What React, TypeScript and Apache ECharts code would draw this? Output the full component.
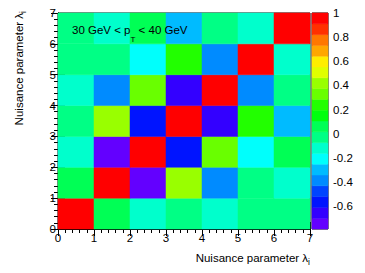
import React, { useEffect, useRef } from 'react';
import * as echarts from 'echarts';

// Correlation matrix rows (row index = y bin, column index = x bin)
const row0 = [1.0, 0.06, -0.12, -0.03, -0.12, -0.03, -0.03];
const row1 = [0.06, 1.0, -0.79, 0.42, -0.39, -0.03, -0.12];
const row2 = [-0.12, -0.79, 1.0, -0.57, 0.33, -0.21, 0.06];
const row3 = [-0.03, 0.42, -0.57, 1.0, -0.66, 0.24, -0.30];
const row4 = [-0.12, -0.39, 0.33, -0.66, 1.0, -0.39, -0.03];
const row5 = [-0.03, -0.03, -0.21, 0.24, -0.39, 1.0, -0.12];
const row6 = [-0.03, -0.12, 0.06, -0.30, -0.03, -0.12, 1.0];
const rows = [row0, row1, row2, row3, row4, row5, row6];

const axisMin = 0;
const axisMax = 7;
const zMin = -0.79;
const zMax = 1;
const nContours = 20;
const paletteTicks = [-0.6, -0.4, -0.2, 0, 0.2, 0.4, 0.6, 0.8, 1];
const titleText = '{n|30 GeV < p}{s|T}{n| < 40 GeV}';
const axisTitleText = '{n|Nuisance parameter λ}{s|i}';

const FONT = "'Liberation Sans', Arial, Helvetica, sans-serif";
const FS = 11.5;

// ROOT "pretty" palette (HLS, L=0.5, S=1, hue 280 -> 0), 50 colours, 20 contours
function hueToRgb(h: number): string {
  let r = 0, g = 0, b = 0;
  if (h < 60) { r = 1; g = h / 60; b = 0; }
  else if (h < 120) { r = (120 - h) / 60; g = 1; b = 0; }
  else if (h < 180) { r = 0; g = 1; b = (h - 120) / 60; }
  else if (h < 240) { r = 0; g = (240 - h) / 60; b = 1; }
  else { r = (h - 240) / 60; g = 0; b = 1; }
  return `rgb(${Math.round(r * 255)},${Math.round(g * 255)},${Math.round(b * 255)})`;
}
const contourColors: string[] = [];
for (let j = 0; j < nContours; j++) {
  const idx = Math.floor((j + 0.99) * 50 / nContours);
  const hue = 280 - (idx + 1) * (280 / 50);
  contourColors.push(hueToRgb(Math.max(hue, 0)));
}
const bandWidth = (zMax - zMin) / nContours;

export default function App() {
  const ref = useRef<HTMLDivElement>(null);
  useEffect(() => {
    if (!ref.current) return;
    const chart = echarts.init(ref.current, undefined, { renderer: 'svg' });

    const cells: number[][] = [];
    rows.forEach((r, y) => r.forEach((v, x) => cells.push([x, y, v])));
    const bands = contourColors.map((_, j) => [j]);

    const pieces = contourColors.map((c, j) => {
      const lo = zMin + j * bandWidth - (j === 0 ? 1e-6 : 0);
      const hi = zMin + (j + 1) * bandWidth + (j === nContours - 1 ? 1e-6 : 0);
      return { gte: lo, lt: hi, color: c };
    });

    const tickLabel = { fontFamily: FONT, fontSize: FS, color: '#000' };
    const axisLine = { show: true, lineStyle: { color: '#000', width: 1 } };

    const mainX = (position: string, showLabel: boolean) => ({
      type: 'value',
      gridIndex: 0,
      position,
      min: axisMin,
      max: axisMax,
      interval: 1,
      axisLine,
      axisTick: { show: true, inside: true, length: 7, lineStyle: { color: '#000' } },
      minorTick: { show: true, splitNumber: 5, length: 4, lineStyle: { color: '#000' } },
      axisLabel: { show: showLabel, margin: 3, ...tickLabel },
      splitLine: { show: false },
      minorSplitLine: { show: false },
    });
    const mainY = (position: string, showLabel: boolean) => ({
      type: 'value',
      gridIndex: 0,
      position,
      min: axisMin,
      max: axisMax,
      interval: 1,
      axisLine,
      axisTick: { show: true, inside: true, length: 7, lineStyle: { color: '#000' } },
      minorTick: { show: true, splitNumber: 5, length: 4, lineStyle: { color: '#000' } },
      axisLabel: { show: showLabel, margin: 2, ...tickLabel },
      splitLine: { show: false },
      minorSplitLine: { show: false },
    });

    const subRich = (pad: number, size: number) => ({
      n: { fontFamily: FONT, fontSize: FS, color: '#000', verticalAlign: 'middle' },
      s: { fontFamily: FONT, fontSize: size, color: '#000', verticalAlign: 'middle', padding: [pad, 0, 0, 0] },
    });

    chart.setOption({
      animation: false,
      backgroundColor: '#fff',
      grid: [
        { left: 58, top: 13, width: 252, height: 216, show: true, borderColor: '#000', borderWidth: 1, backgroundColor: 'transparent' },
        { left: 312, top: 13, width: 16, height: 216, show: true, borderColor: '#000', borderWidth: 1, backgroundColor: 'transparent' },
      ],
      xAxis: [
        mainX('bottom', true),
        mainX('top', false),
        { type: 'value', gridIndex: 1, min: 0, max: 1, show: false },
      ],
      yAxis: [
        mainY('left', true),
        mainY('right', false),
        {
          type: 'value',
          gridIndex: 1,
          position: 'right',
          min: zMin,
          max: zMax,
          axisLine: { show: false },
          axisTick: { show: true, inside: false, length: 5, customValues: paletteTicks, lineStyle: { color: '#000' } },
          axisLabel: { show: true, margin: 5, customValues: paletteTicks, ...tickLabel },
          splitLine: { show: false },
        },
      ],
      visualMap: {
        type: 'piecewise',
        show: false,
        seriesIndex: 0,
        dimension: 2,
        pieces,
      },
      series: [
        {
          type: 'custom',
          xAxisIndex: 0,
          yAxisIndex: 0,
          encode: { x: 0, y: 1 },
          data: cells,
          renderItem: (params: any, api: any) => {
            const x = api.value(0);
            const y = api.value(1);
            const p0 = api.coord([x, y]);
            const p1 = api.coord([x + 1, y + 1]);
            const color = api.visual('color');
            return {
              type: 'rect',
              shape: { x: p0[0], y: p1[1], width: p1[0] - p0[0], height: p0[1] - p1[1] },
              style: { fill: color, stroke: color, lineWidth: 0.5 },
            };
          },
          z: 1,
        },
        {
          type: 'custom',
          xAxisIndex: 2,
          yAxisIndex: 2,
          data: bands,
          encode: { y: 0 },
          renderItem: (params: any, api: any) => {
            const j = api.value(0);
            const lo = zMin + j * bandWidth;
            const hi = zMin + (j + 1) * bandWidth;
            const p0 = api.coord([0, lo]);
            const p1 = api.coord([1, hi]);
            const color = contourColors[j];
            return {
              type: 'rect',
              shape: { x: p0[0], y: p1[1], width: p1[0] - p0[0], height: p0[1] - p1[1] },
              style: { fill: color, stroke: color, lineWidth: 0.5 },
            };
          },
          z: 1,
        },
      ],
      graphic: [
        {
          type: 'text',
          x: 72,
          y: 29.5,
          z: 100,
          style: { text: titleText, align: 'left', verticalAlign: 'middle', rich: subRich(19, 8) },
        },
        {
          type: 'text',
          x: 310,
          y: 258,
          z: 100,
          style: { text: axisTitleText, align: 'right', verticalAlign: 'middle', rich: subRich(8, 8.5) },
        },
        {
          type: 'text',
          x: 19,
          y: 11,
          rotation: Math.PI / 2,
          z: 100,
          style: { text: axisTitleText, align: 'right', verticalAlign: 'middle', rich: subRich(8, 8.5) },
        },
      ],
    });
    return () => chart.dispose();
  }, []);
  return <div ref={ref} style={{ position: 'absolute', left: 0, top: 0, width: 365, height: 273 }} />;
}
